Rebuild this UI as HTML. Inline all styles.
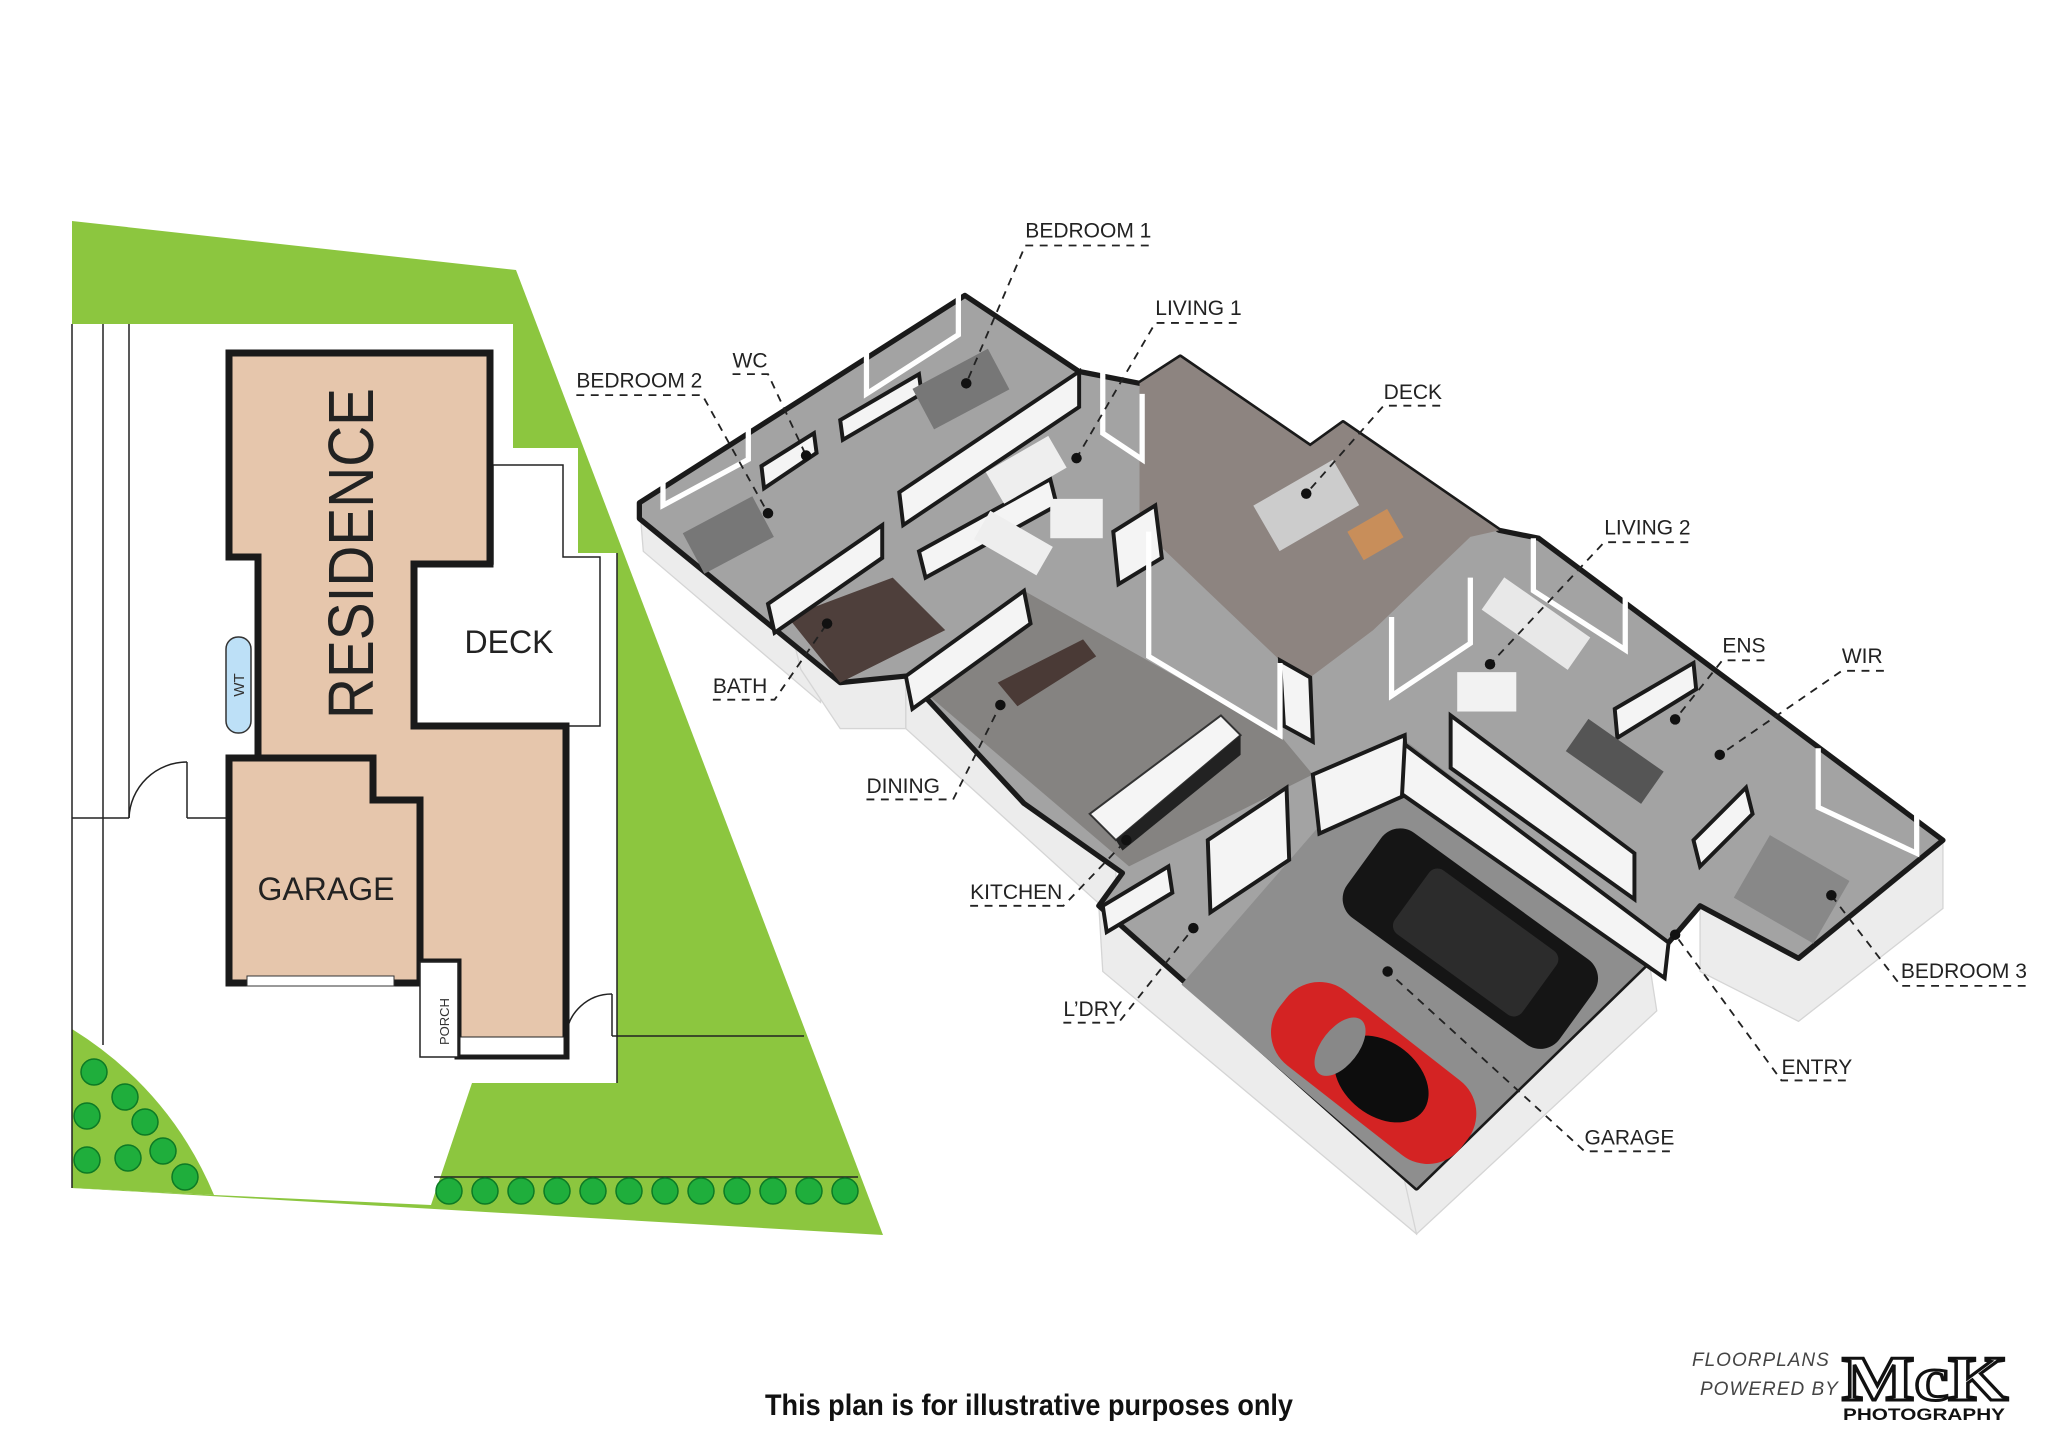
<!DOCTYPE html>
<html><head><meta charset="utf-8"><style>
html,body{margin:0;padding:0;background:#fff;}
body{width:2048px;height:1451px;position:relative;overflow:hidden;font-family:"Liberation Sans",sans-serif;}
svg{position:absolute;left:0;top:0;}
</style></head><body>
<svg width="2048" height="1451" viewBox="0 0 2048 1451">
<polygon points="72,221 516,270 883,1235 72,1188" fill="#8cc63f"/>
<polygon points="72,324 513,324 513,448 578,448 578,553 617,553 617,1083 472,1083 431,1205 214,1195 72,1188" fill="#fff"/>
<path d="M72,1029 Q170,1090 214,1195 L72,1188 Z" fill="#8cc63f"/>
<g stroke="#222" stroke-width="1.5" fill="none">
<line x1="72" y1="324" x2="72" y2="1188"/>
<line x1="103" y1="324" x2="103" y2="1045"/>
<line x1="129" y1="324" x2="129" y2="818"/>
<line x1="72" y1="818" x2="129" y2="818"/>
<path d="M129,818 A58,58 0 0 1 187,762"/>
<line x1="187" y1="762" x2="187" y2="818"/>
<line x1="187" y1="818" x2="229" y2="818"/>
<path d="M566,1036 A46,46 0 0 1 612,994"/>
<line x1="612" y1="994" x2="612" y2="1036"/>
<line x1="612" y1="1036" x2="804" y2="1036"/>
<line x1="434" y1="1177" x2="858" y2="1177"/>
<line x1="617" y1="553" x2="617" y2="1083"/>
</g>
<polygon points="493,465 563,465 563,557 600,557 600,726 414,726 414,564 493,564" fill="#fff" stroke="#222" stroke-width="1.5"/>
<polygon points="229,353 490,353 490,564 414,564 414,726 566,726 566,1056 458,1056 458,962 420,962 420,800 373,800 373,758 258,758 258,557 229,557" fill="#e6c6ac" stroke="#1a1a1a" stroke-width="7" stroke-linejoin="miter"/>
<polygon points="229,758 373,758 373,800 420,800 420,983 229,983" fill="#e6c6ac" stroke="#1a1a1a" stroke-width="7"/>
<rect x="247" y="976" width="147" height="10" fill="#fff" stroke="#333" stroke-width="1"/>
<rect x="420" y="962" width="38" height="95" fill="#fff" stroke="#222" stroke-width="1.5"/>
<rect x="460" y="1037" width="104" height="18" fill="#fff" stroke="#222" stroke-width="1"/>
<rect x="226" y="637" width="25" height="96" rx="12" fill="#bde0f7" stroke="#333" stroke-width="1.5"/>
<text transform="translate(244,685) rotate(-90)" text-anchor="middle" font-size="15" fill="#333">WT</text>
<text transform="translate(373,719) rotate(-90)" x="0" y="0" font-size="64" fill="#222" textLength="331" lengthAdjust="spacingAndGlyphs">RESIDENCE</text>
<text x="509" y="653" text-anchor="middle" font-size="32" fill="#222">DECK</text>
<text x="326" y="900" text-anchor="middle" font-size="32" fill="#222">GARAGE</text>
<text transform="translate(449,1045) rotate(-90)" font-size="13" fill="#333">PORCH</text>
<g fill="#1fae3c" stroke="#0d7a25" stroke-width="1.5">
<circle cx="94" cy="1072" r="13"/><circle cx="125" cy="1097" r="13"/><circle cx="145" cy="1122" r="13"/>
<circle cx="87" cy="1116" r="13"/><circle cx="163" cy="1151" r="13"/><circle cx="87" cy="1160" r="13"/>
<circle cx="128" cy="1158" r="13"/><circle cx="185" cy="1177" r="13"/>
<circle cx="449" cy="1191" r="13"/><circle cx="485" cy="1191" r="13"/><circle cx="521" cy="1191" r="13"/>
<circle cx="557" cy="1191" r="13"/><circle cx="593" cy="1191" r="13"/><circle cx="629" cy="1191" r="13"/>
<circle cx="665" cy="1191" r="13"/><circle cx="701" cy="1191" r="13"/><circle cx="737" cy="1191" r="13"/>
<circle cx="773" cy="1191" r="13"/><circle cx="809" cy="1191" r="13"/><circle cx="845" cy="1191" r="13"/>
</g>
<text x="1029" y="1415" text-anchor="middle" font-size="30" font-weight="bold" fill="#111" textLength="528" lengthAdjust="spacingAndGlyphs">This plan is for illustrative purposes only</text>
<text x="1692" y="1366" font-size="19" fill="#444" font-style="italic" letter-spacing="1">FLOORPLANS</text>
<text x="1700" y="1395" font-size="19" fill="#444" font-style="italic" letter-spacing="1">POWERED BY</text>
<text x="1925" y="1400" text-anchor="middle" font-size="64" font-weight="bold" font-family="Liberation Serif,serif" fill="#fff" stroke="#111" stroke-width="3" textLength="166" lengthAdjust="spacingAndGlyphs">McK</text>
<text x="1924" y="1420" text-anchor="middle" font-size="17" font-weight="bold" fill="#111" textLength="162" lengthAdjust="spacingAndGlyphs">PHOTOGRAPHY</text>
</svg>
<svg width="2048" height="1451" viewBox="0 0 1560 1105.3">
<g fill="#ececec" stroke="#d5d5d5" stroke-width="1">
<polygon points="487,383 625,490 625,535 490,420"/>
<polygon points="600,470 690,515 690,555 640,555 610,510"/>
<polygon points="690,515 850,660 850,700 690,555"/>
<polygon points="837,690 1079,905 1079,940 840,740"/>
<polygon points="1070,900 1255,725 1262,770 1079,940"/>
<polygon points="1295,690 1370,730 1480,640 1480,692 1370,778 1295,740"/>
</g>
<polygon points="487,383 735,225 822,283 868,292 899,272 998,340 1023,322 1142,404 1172,410 1480,640 1370,730 1295,690 1271,718 1079,905 837,690 855,665 780,612 690,515 640,520 487,395" fill="#a3a3a3" stroke="#1a1a1a" stroke-width="4" stroke-linejoin="round"/>
<polygon points="690,515 780,450 975,560 1000,590 860,660" fill="#858381"/>
<polygon points="600,470 680,440 720,480 640,520" fill="#4e3f3b"/>
<polygon points="868,292 899,272 998,340 1023,322 1142,404 1120,409 1046,480 998,516 975,503 868,401" fill="#8d8480"/>
<polygon points="1065,560 1271,718 1079,905 900,750" fill="#8e8e8e"/>
<g fill="#f4f4f4" stroke="#1a1a1a" stroke-width="3">
<polygon points="685,375 822,283 822,310 688,400"/>
<polygon points="700,420 800,365 805,385 705,440"/>
<polygon points="585,460 672,400 672,425 590,482"/>
<polygon points="690,515 780,450 785,475 695,540"/>
<polygon points="848,405 880,385 885,425 852,445"/>
<polygon points="975,503 998,516 1000,565 978,553"/>
<polygon points="1000,590 1070,560 1072,605 1005,635"/>
<polygon points="1070,567 1271,718 1268,745 1068,605"/>
<polygon points="1105,545 1245,650 1245,685 1105,585"/>
<polygon points="1230,540 1290,505 1292,525 1232,562"/>
<polygon points="1290,640 1330,600 1335,620 1295,660"/>
<polygon points="840,690 890,660 893,680 843,710"/>
<polygon points="920,640 980,600 982,655 922,695"/>
<polygon points="580,355 620,330 622,345 582,372"/>
<polygon points="640,320 700,285 702,300 642,335"/>
</g>
<g fill="none" stroke="#fff" stroke-width="4">
<polyline points="875,405 875,500 975,560 975,505"/>
<polyline points="1060,470 1060,530 1120,490 1120,440"/>
<polyline points="1168,410 1168,450 1238,495 1238,455"/>
<polyline points="1385,570 1385,615 1460,650 1460,605"/>
<polyline points="660,260 660,300 730,255 730,220"/>
<polyline points="505,345 505,385 570,350 570,315"/>
<polyline points="840,280 840,330 870,350 870,300"/>
</g>
<polygon points="830,620 930,545 945,560 850,640" fill="#f5f5f5" stroke="#333" stroke-width="1.5"/>
<polygon points="850,640 945,560 945,575 855,648" fill="#222"/>
<polygon points="760,520 825,487 835,500 775,538" fill="#4a3a36"/>
<rect x="755" y="345" width="55" height="28" fill="#eee" transform="rotate(-30 780 360)"/>
<rect x="800" y="380" width="40" height="30" fill="#f0f0f0"/>
<rect x="745" y="400" width="55" height="25" fill="#eee" transform="rotate(30 770 412)"/>
<rect x="700" y="280" width="65" height="35" fill="#777" transform="rotate(-28 730 298)"/>
<rect x="525" y="390" width="60" height="35" fill="#777" transform="rotate(-28 555 408)"/>
<rect x="960" y="365" width="70" height="40" fill="#ccc" transform="rotate(-30 995 385)"/>
<rect x="1030" y="395" width="35" height="25" fill="#c88e5a" transform="rotate(-30 1047 407)"/>
<rect x="1130" y="460" width="80" height="30" fill="#e8e8e8" transform="rotate(35 1170 475)"/>
<rect x="1110" y="512" width="45" height="30" fill="#f2f2f2"/>
<rect x="1330" y="650" width="70" height="55" fill="#888" transform="rotate(30 1365 677)"/>
<rect x="1195" y="565" width="70" height="30" fill="#555" transform="rotate(35 1230 580)"/>
<g transform="rotate(36 1120 715)">
<rect x="1020" y="675" width="200" height="80" rx="18" fill="#151515"/>
<rect x="1065" y="685" width="120" height="60" rx="8" fill="#2c2c2c"/>
</g>
<g transform="rotate(38 1045 815)">
<rect x="960" y="780" width="175" height="72" rx="32" fill="#d42323"/>
<ellipse cx="1055" cy="816" rx="40" ry="28" fill="#0d0d0d"/>
<ellipse cx="1015" cy="816" rx="14" ry="26" fill="#888"/>
</g>
<g font-family="Liberation Sans,sans-serif" font-size="16" fill="#222">
<text x="781" y="181">BEDROOM 1</text>
<text x="880" y="240">LIVING 1</text>
<text x="1054" y="304">DECK</text>
<text x="439" y="295">BEDROOM 2</text>
<text x="558" y="280">WC</text>
<text x="1222" y="407">LIVING 2</text>
<text x="1312" y="497">ENS</text>
<text x="1403" y="505">WIR</text>
<text x="543" y="528">BATH</text>
<text x="660" y="604">DINING</text>
<text x="739" y="685">KITCHEN</text>
<text x="810" y="774">L’DRY</text>
<text x="1448" y="745">BEDROOM 3</text>
<text x="1357" y="818">ENTRY</text>
<text x="1207" y="872">GARAGE</text>
</g>
<g stroke="#222" stroke-width="1.4" stroke-dasharray="6,5" fill="none">
<polyline points="875,187 781,187 736,292"/>
<polyline points="942,246 880,246 820,349"/>
<polyline points="1097,309 1054,309 995,376"/>
<polyline points="439,301 535,301 585,391"/>
<polyline points="558,285 585,285 614,347"/>
<polyline points="1286,413 1222,413 1135,506"/>
<polyline points="1344,503 1312,503 1276,548"/>
<polyline points="1435,511 1403,511 1310,575"/>
<polyline points="543,533 590,533 630,475"/>
<polyline points="660,609 726,609 762,537"/>
<polyline points="739,690 810,690 858,640"/>
<polyline points="810,779 852,779 909,707"/>
<polyline points="1543,751 1448,751 1395,682"/>
<polyline points="1406,823 1357,823 1276,712"/>
<polyline points="1272,877 1207,877 1057,740"/>
</g>
<g fill="#111">
<circle cx="736" cy="292" r="4"/><circle cx="820" cy="349" r="4"/><circle cx="995" cy="376" r="4"/>
<circle cx="585" cy="391" r="4"/><circle cx="614" cy="347" r="4"/><circle cx="1135" cy="506" r="4"/>
<circle cx="1276" cy="548" r="4"/><circle cx="1310" cy="575" r="4"/><circle cx="630" cy="475" r="4"/>
<circle cx="762" cy="537" r="4"/><circle cx="858" cy="640" r="4"/><circle cx="909" cy="707" r="4"/>
<circle cx="1395" cy="682" r="4"/><circle cx="1276" cy="712" r="4"/><circle cx="1057" cy="740" r="4"/>
</g>
</svg>
</body></html>
